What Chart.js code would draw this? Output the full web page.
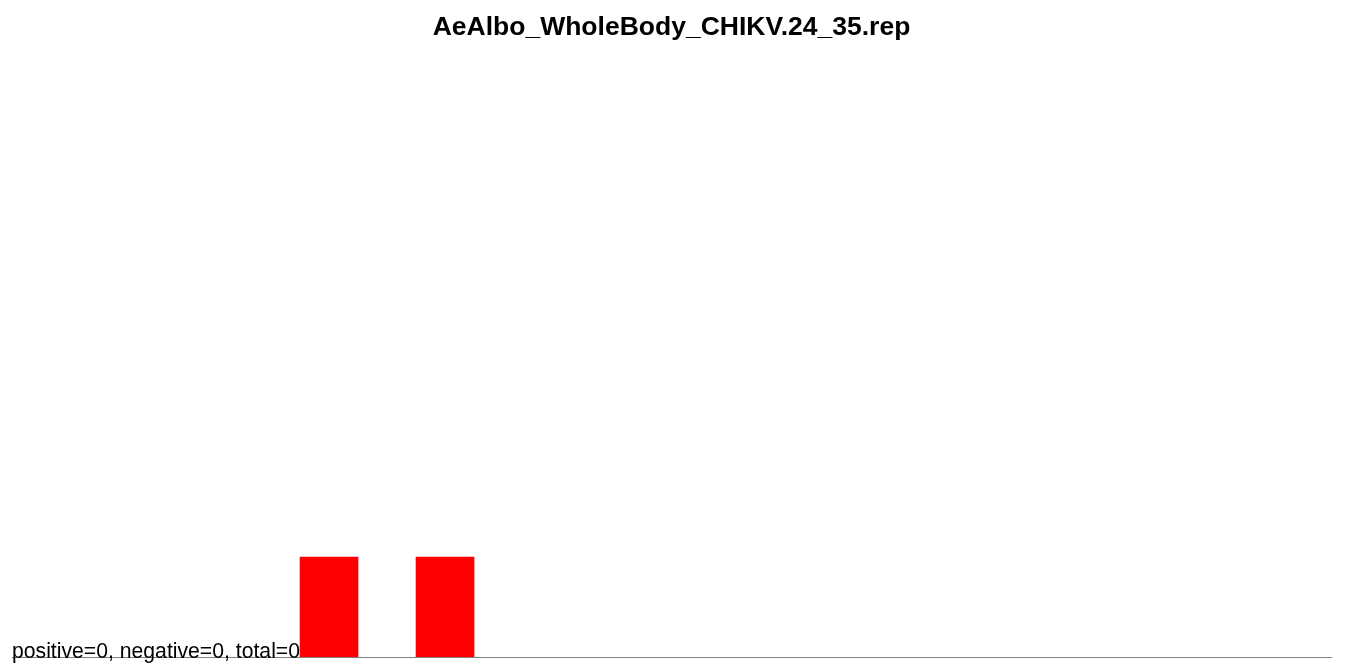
<!DOCTYPE html>
<html>
<head>
<meta charset="utf-8">
<style>
    html, body { margin: 0; padding: 0; background: #fff; }
    #chart { display: block; }
</style>
<script src="https://cdn.jsdelivr.net/npm/chart.js@4.4.1/dist/chart.umd.min.js"></script>
</head>
<body>
<canvas id="chart" width="1347" height="664"></canvas>
<script>
(function () {
    'use strict';

    var chartTitle = 'AeAlbo_WholeBody_CHIKV.24_35.rep';
    var barPositions = [1, 2];
    var barValues = [1, 1];
    var summaryLabels = ['positive', 'negative', 'total'];
    var summaryCounts = [0, 0, 0];

    var fontFamily = '"Liberation Sans", Arial, Helvetica, sans-serif';

    var summaryText = summaryLabels.map(function (l, i) {
        return l + '=' + summaryCounts[i];
    }).join(', ');

    // summary line sits on the baseline, under the bars
    var summaryPlugin = {
        id: 'summaryText',
        beforeDatasetsDraw: function (chart) {
            var ctx = chart.ctx;
            var area = chart.chartArea;
            ctx.save();
            ctx.font = '21.2px ' + fontFamily;
            ctx.fillStyle = '#000';
            ctx.textAlign = 'left';
            ctx.textBaseline = 'alphabetic';
            ctx.fillText(summaryText, area.left, area.bottom + 1);
            ctx.restore();
        }
    };

    new Chart(document.getElementById('chart').getContext('2d'), {
        type: 'bar',
        data: {
            datasets: [{
                data: barPositions.map(function (x, i) { return { x: x, y: barValues[i] }; }),
                backgroundColor: '#ff0000',
                borderWidth: 0,
                barThickness: 58
            }]
        },
        options: {
            responsive: false,
            animation: false,
            layout: { padding: { left: 12, right: 16, bottom: 7, top: 0 } },
            plugins: {
                legend: { display: false },
                tooltip: { enabled: false },
                title: {
                    display: true,
                    text: chartTitle,
                    color: '#000',
                    font: { family: fontFamily, size: 26.5, weight: 'bold' },
                    padding: { top: 12, bottom: 14 }
                }
            },
            scales: {
                x: {
                    type: 'linear',
                    min: -1.733,
                    max: 9.638,
                    offset: false,
                    ticks: { display: false },
                    grid: { display: false, drawTicks: false },
                    border: { display: true, color: '#808080', width: 1 }
                },
                y: {
                    display: false,
                    min: 0,
                    max: 6
                }
            }
        },
        plugins: [summaryPlugin]
    });
}());
</script>
</body>
</html>
